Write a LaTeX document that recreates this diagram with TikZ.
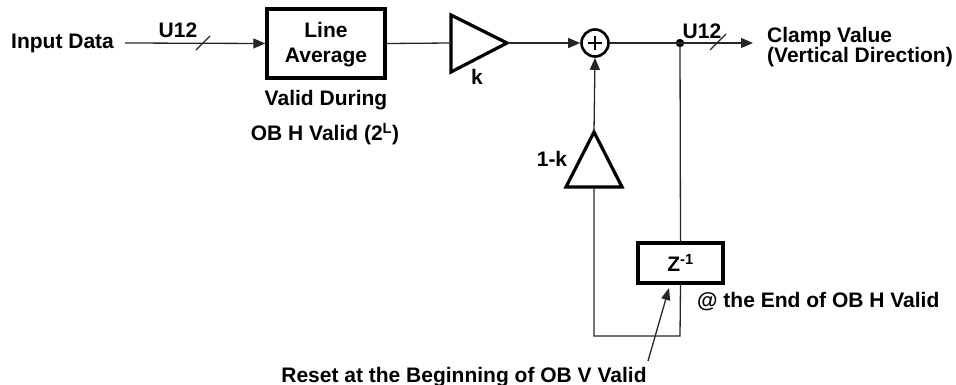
\documentclass[tikz,border=0pt]{standalone}
\usepackage{fontspec}
\setmainfont{Liberation Sans}
\usetikzlibrary{arrows.meta}
\begin{document}
\begin{tikzpicture}[x=1pt,y=-1pt,
  txt/.style={font=\fontsize{21}{25}\selectfont\bfseries, inner sep=0pt},
  wire/.style={line width=1.3pt, draw=black!85},
  arr/.style={wire, -{Triangle[length=12pt,width=10pt]}},
  blk/.style={draw, line width=3.4pt, inner sep=0pt, align=center,
    font=\fontsize{21}{25}\selectfont\bfseries},
  amp/.style={line width=3.2pt, line join=miter}]
\useasboundingbox (0,0) rectangle (956,385);
% input
\node[txt, anchor=west] (in) at (11,43) {Input Data};
\node[blk, minimum width=118pt, minimum height=69pt] (avg) at (326,43.5) {};
\node[txt, align=center] (avgt) at (326,45) {Line\\Average};
\draw[arr] (in.east) ++(11,0) coordinate (inl) -- (avg.west);
\node[txt] (u1) at (178,30) {U12};
\draw[wire] (196,50) coordinate (s1a) -- (210,36) coordinate (s1b);
\node[txt] (vd) at (326,100) {Valid During};
\node[txt] (ob) at (325,134) {OB H Valid (2\textsuperscript{L})};
% amp k
\coordinate (kin) at (451,43);
\coordinate (kout) at (507,43);
\draw[amp] (451,15) -- (kout) -- (451,72) -- cycle;
\node[txt] (klab) at (477,77) {k};
\draw[wire] (avg.east) -- (kin);
% summer
\node[draw, circle, line width=2.6pt, minimum size=27pt, inner sep=0pt] (sum) at (595,43) {};
\draw[line width=2.4pt] ([xshift=-7pt]sum.center) -- ([xshift=7pt]sum.center)
  ([yshift=-7pt]sum.center) -- ([yshift=7pt]sum.center);
\draw[arr] (kout) -- (sum.west);
% output
\coordinate (dot) at (680,43);
\fill (dot) circle (4.2pt);
\coordinate (outend) at (753,43);
\draw[wire] (sum.east) -- (dot);
\draw[arr] (dot) -- (outend);
\node[txt] (u2) at (702,31) {U12};
\draw[wire] (710,50) coordinate (s2a) -- (726,34) coordinate (s2b);
\node[txt, anchor=west, align=left, font=\fontsize{21}{20}\selectfont\bfseries] (clamp) at (767,47) {Clamp Value\\(Vertical Direction)};
% feedback
\node[blk, minimum width=85pt, minimum height=40pt] (z) at (680.5,263) {Z\textsuperscript{-1}};
\draw[wire] (dot) -- (z.north);
\coordinate (bl) at (594,336);
\coordinate (br) at (680,336);
\coordinate (tb) at (594,187);
\coordinate (ta) at (594,132);
\draw[amp] (ta) -- (622,187) -- (566,187) -- cycle;
\node[txt] (kk) at (552,159) {1-k};
\draw[wire] (z.south) -- (br) -- (bl) -- (tb);
\draw[arr] (ta) -- (sum.south);
\node[txt, anchor=west] (end) at (697,302) {@ the End of OB H Valid};
\node[txt] (reset) at (464,377) {Reset at the Beginning of OB V Valid};
\coordinate (rs) at (648,361);
\draw[wire, -{Triangle[length=12pt,width=9pt]}] (rs) -- (669,288);
\end{tikzpicture}
\end{document}
